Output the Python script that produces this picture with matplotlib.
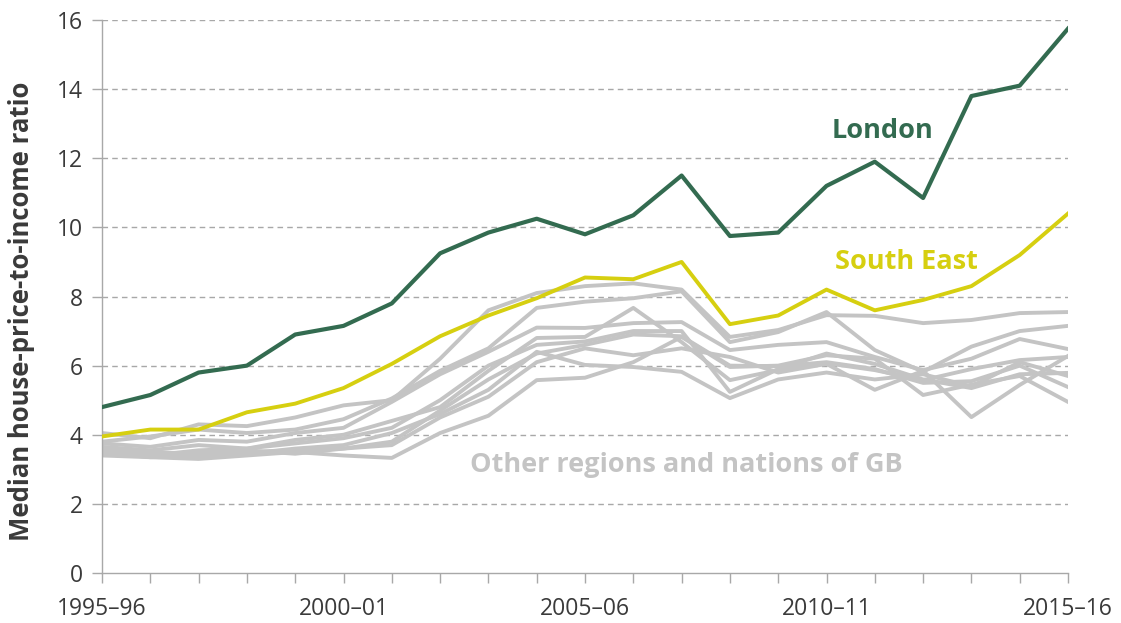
import numpy as np
import matplotlib
matplotlib.use("Agg")
import matplotlib.pyplot as plt

plt.rcParams['font.family'] = ['Open Sans', 'DejaVu Sans']

years = ['1995–96', '1996–97', '1997–98', '1998–99', '1999–00', '2000–01', '2001–02',
         '2002–03', '2003–04', '2004–05', '2005–06', '2006–07', '2007–08', '2008–09',
         '2009–10', '2010–11', '2011–12', '2012–13', '2013–14', '2014–15', '2015–16']

london = [4.80, 5.15, 5.80, 6.00, 6.90, 7.15, 7.80, 9.25, 9.85, 10.25, 9.80,
          10.35, 11.50, 9.75, 9.85, 11.20, 11.90, 10.85, 13.80, 14.10, 15.75]
south_east = [3.95, 4.15, 4.15, 4.65, 4.90, 5.35, 6.05, 6.85, 7.45, 7.95, 8.55,
              8.50, 9.00, 7.20, 7.45, 8.20, 7.60, 7.90, 8.30, 9.20, 10.40]

# other regions and nations of GB (grey)
region_1 = [4.05, 3.90, 4.30, 4.25, 4.50, 4.85, 5.00, 6.20, 7.60, 8.10, 8.30, 8.38, 8.20, 6.83, 7.03, 7.46, 7.44, 7.23, 7.32, 7.52, 7.55]
region_2 = [3.80, 3.95, 4.15, 4.05, 4.15, 4.45, 5.05, 5.85, 6.50, 7.67, 7.85, 7.95, 8.15, 6.68, 6.97, 7.55, 6.45, 5.82, 6.55, 7.00, 7.15]
region_3 = [3.75, 3.65, 3.85, 3.80, 4.05, 4.20, 4.95, 5.75, 6.40, 7.10, 7.09, 7.23, 7.26, 6.45, 6.60, 6.68, 6.25, 5.87, 6.20, 6.77, 6.48]
region_4 = [3.65, 3.55, 3.70, 3.60, 3.85, 4.00, 4.40, 4.80, 5.85, 6.80, 6.83, 7.67, 6.68, 5.58, 5.87, 6.07, 5.87, 5.58, 5.90, 6.16, 6.25]
region_5 = [3.55, 3.40, 3.55, 3.60, 3.75, 3.90, 4.20, 5.00, 6.00, 6.60, 6.70, 7.00, 7.00, 5.24, 5.90, 6.35, 6.05, 5.60, 5.35, 5.75, 5.79]
region_6 = [3.50, 3.35, 3.40, 3.45, 3.60, 3.70, 4.05, 4.60, 5.30, 6.40, 6.02, 5.96, 5.82, 5.06, 5.60, 5.80, 5.60, 5.75, 5.40, 6.10, 5.70]
region_7 = [3.45, 3.45, 3.35, 3.50, 3.55, 3.60, 3.80, 4.70, 5.60, 6.35, 6.60, 6.90, 6.85, 6.00, 5.98, 6.10, 5.90, 5.50, 5.55, 6.00, 5.38]
region_8 = [3.40, 3.35, 3.30, 3.40, 3.50, 3.40, 3.33, 4.05, 4.55, 5.58, 5.65, 6.10, 6.83, 5.96, 6.00, 6.30, 6.20, 5.15, 5.45, 5.70, 4.95]
region_9 = [3.55, 3.50, 3.45, 3.55, 3.45, 3.60, 3.70, 4.50, 5.10, 6.10, 6.50, 6.30, 6.50, 6.25, 5.80, 6.05, 5.30, 5.85, 4.51, 5.44, 6.28]
others = [region_1, region_2, region_3, region_4, region_5, region_6, region_7, region_8, region_9]

green = '#336b50'
yellow = '#d6cf10'
grey = '#c4c4c4'
text_col = '#3a3a3a'

fig = plt.figure(figsize=(11.21, 6.23), dpi=100)
ax = fig.add_axes([102 / 1121, 50 / 623, 966 / 1121, 553 / 623])

x = np.arange(len(years))
for r in others:
    ax.plot(x, r, color=grey, lw=2.8, zorder=2)
ax.plot(x, south_east, color=yellow, lw=2.8, zorder=3)
ax.plot(x, london, color=green, lw=3.0, zorder=4)

ax.text(16.15, 12.8, 'London', color=green, fontsize=19.5, fontweight='bold',
        ha='center', va='center')
ax.text(16.65, 9.0, 'South East', color=yellow, fontsize=19.5, fontweight='bold',
        ha='center', va='center')
ax.text(12.1, 3.12, 'Other regions and nations of GB', color=grey, fontsize=19.5,
        fontweight='bold', ha='center', va='center')

ax.set_xlim(0, 20)
ax.set_ylim(0, 16)
ax.set_yticks(np.arange(0, 17, 2))
ax.set_xticks(x)
ax.set_xticklabels([y if i % 5 == 0 else '' for i, y in enumerate(years)])

for v in np.arange(2, 17, 2):
    ax.axhline(v, color='#a8a8a8', lw=1, ls=(0, (4, 3)), zorder=1)

for s in ['top', 'right']:
    ax.spines[s].set_visible(False)
for s in ['left', 'bottom']:
    ax.spines[s].set_color('#a8a8a8')
    ax.spines[s].set_linewidth(1)

ax.tick_params(axis='both', colors='#a8a8a8', labelcolor=text_col, labelsize=16.5,
               length=7, width=1, direction='out')
ax.tick_params(axis='y', pad=7)
ax.tick_params(axis='x', pad=10)

ax.set_ylabel('Median house-price-to-income ratio', fontsize=18.5, fontweight='bold',
              color=text_col)
ax.yaxis.set_label_coords(-0.069, 0.474)

fig.savefig('out.png', dpi=100)
